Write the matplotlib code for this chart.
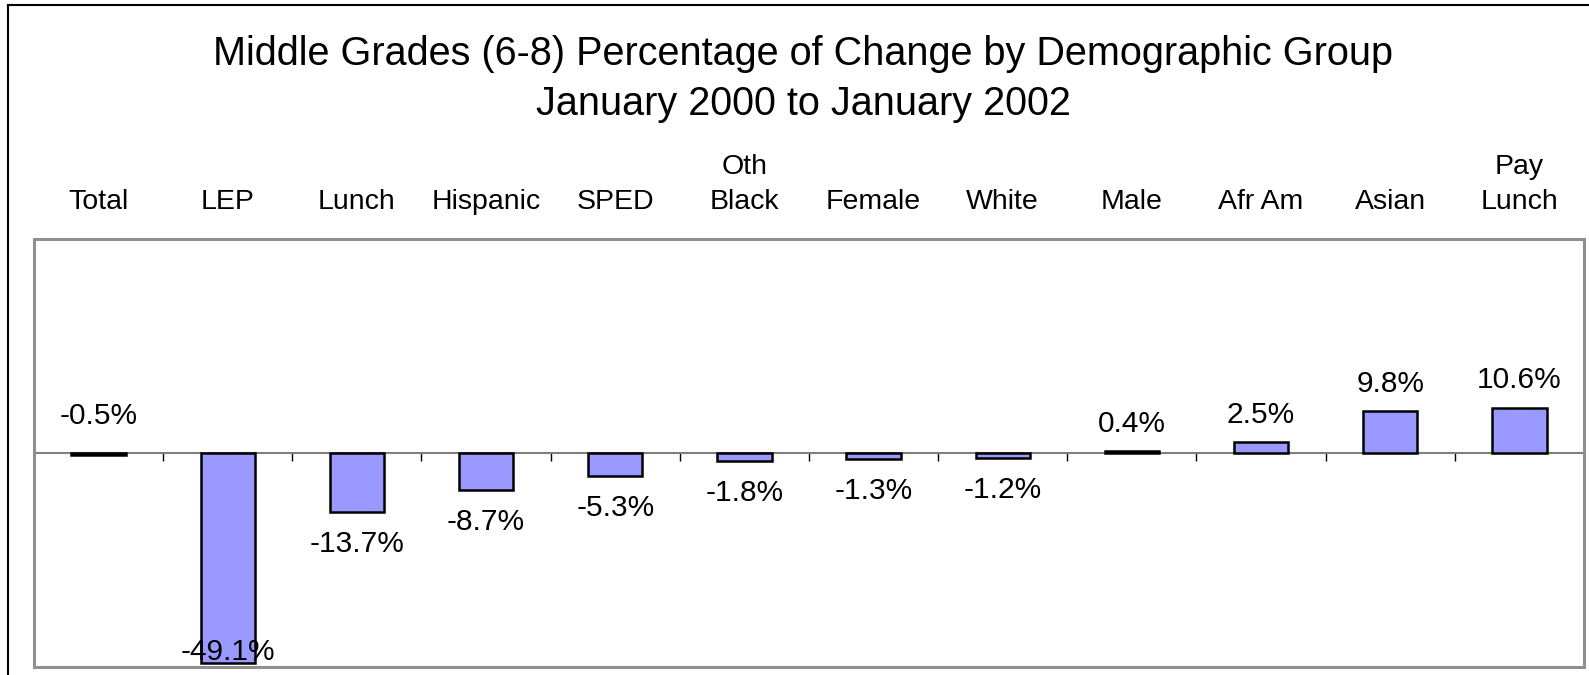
import matplotlib.pyplot as plt
from matplotlib.lines import Line2D
from matplotlib.patches import Rectangle
import numpy as np

plt.rcParams['font.family'] = ['Liberation Sans', 'DejaVu Sans']

groups = ["Total", "LEP", "Lunch", "Hispanic", "SPED", "Oth\nBlack", "Female",
          "White", "Male", "Afr Am", "Asian", "Pay\nLunch"]
change = [-0.5, -49.1, -13.7, -8.7, -5.3, -1.8, -1.3, -1.2, 0.4, 2.5, 9.8, 10.6]

W, H = 1589, 675
fig = plt.figure(figsize=(W / 100, H / 100), dpi=100)

# outer chart frame (left and top edges visible)
fig.add_artist(Line2D([8 / W, 8 / W], [0, 1 - 5 / H], color='black', lw=1.5))
fig.add_artist(Line2D([8 / W, 1], [1 - 5 / H, 1 - 5 / H], color='black', lw=1.5))

fig.text(803 / W, 1 - 65 / H, "Middle Grades (6-8) Percentage of Change by Demographic Group",
         ha='center', va='baseline', fontsize=28.5)
fig.text(803 / W, 1 - 115 / H, "January 2000 to January 2002",
         ha='center', va='baseline', fontsize=28.5)

ax = fig.add_axes([34 / W, 1 - 667 / H, 1550 / W, 428 / H])
x = np.arange(len(groups))
ax.bar(x, change, width=0.42, color='#9999FF', edgecolor='black', linewidth=1.8, zorder=3)

ymin, ymax = -50, 50
ax.set_xlim(-0.5, len(groups) - 0.5)
ax.set_ylim(ymin, ymax)

for s in ['top', 'left', 'right']:
    ax.spines[s].set_visible(False)
ax.spines['bottom'].set_position(('data', 0))
ax.spines['bottom'].set_color('#808080')
ax.spines['bottom'].set_linewidth(1.5)
ax.add_patch(Rectangle((0, 0), 1, 1, transform=ax.transAxes, fill=False,
                       edgecolor='#909090', lw=2.2, clip_on=False, zorder=4))

ax.set_yticks([])
ax.set_xticks(x)
ax.set_xticklabels(groups)
ax.set_xticks(np.arange(len(groups) + 1) - 0.5, minor=True)
ax.tick_params(axis='x', which='major', bottom=False, top=False,
               labelbottom=False, labeltop=True, labelsize=20.5, pad=14)
ax.tick_params(axis='x', which='minor', bottom=True, top=False, length=6,
               width=1, color='black', direction='out')
for t in ax.get_xticklabels():
    t.set_linespacing(1.42)

for xi, v in zip(x, change):
    txt = f"{v:.1f}%"
    if xi == 0:
        ax.annotate(txt, (xi, 0), xytext=(0, 21), textcoords='offset points',
                    ha='center', va='baseline', fontsize=21.5)
    elif v >= 0:
        ax.annotate(txt, (xi, v), xytext=(0, 14), textcoords='offset points',
                    ha='center', va='baseline', fontsize=21.5)
    elif v < ymin * 0.9:
        ax.annotate(txt, (xi, ymin), xytext=(0, 5), textcoords='offset points',
                    ha='center', va='baseline', fontsize=21.5, zorder=5)
    else:
        ax.annotate(txt, (xi, v), xytext=(0, -13), textcoords='offset points',
                    ha='center', va='top', fontsize=21.5)

fig.savefig("out.png", dpi=100)
